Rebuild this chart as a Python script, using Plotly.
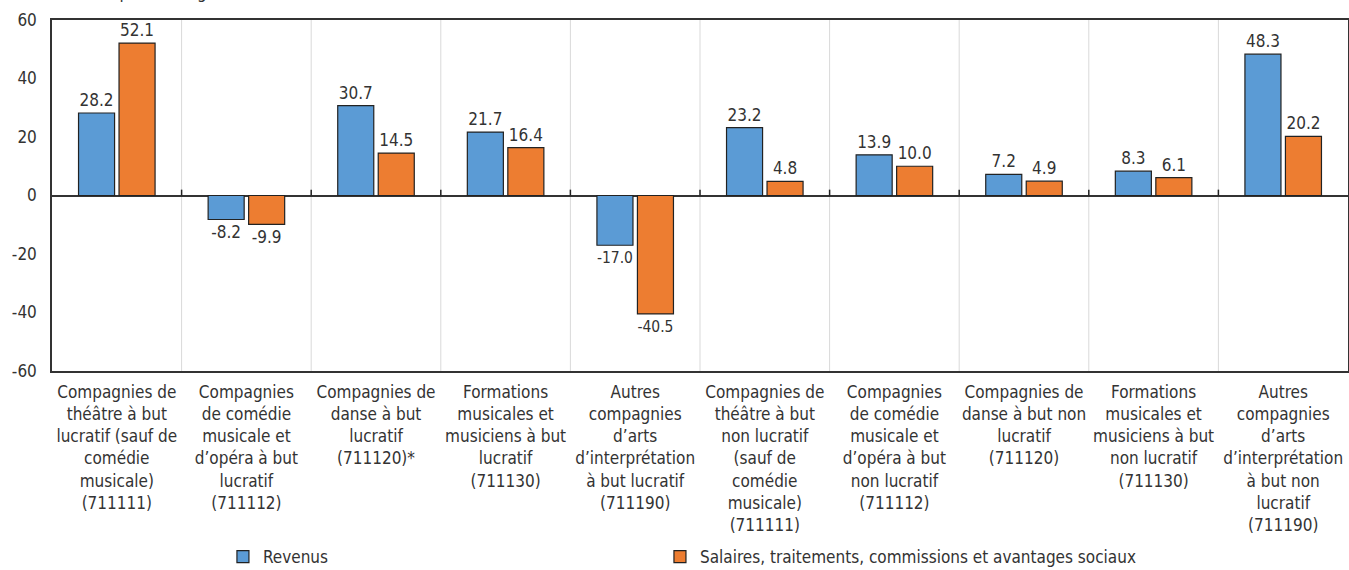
import plotly.graph_objects as go

categories = [
    "Compagnies de<br>théâtre à but<br>lucratif (sauf de<br>comédie<br>musicale)<br>(711111)",
    "Compagnies<br>de comédie<br>musicale et<br>d’opéra à but<br>lucratif<br>(711112)",
    "Compagnies de<br>danse à but<br>lucratif<br>(711120)*",
    "Formations<br>musicales et<br>musiciens à but<br>lucratif<br>(711130)",
    "Autres<br>compagnies<br>d’arts<br>d’interprétation<br>à but lucratif<br>(711190)",
    "Compagnies de<br>théâtre à but<br>non lucratif<br>(sauf de<br>comédie<br>musicale)<br>(711111)",
    "Compagnies<br>de comédie<br>musicale et<br>d’opéra à but<br>non lucratif<br>(711112)",
    "Compagnies de<br>danse à but non<br>lucratif<br>(711120)",
    "Formations<br>musicales et<br>musiciens à but<br>non lucratif<br>(711130)",
    "Autres<br>compagnies<br>d’arts<br>d’interprétation<br>à but non<br>lucratif<br>(711190)",
]
revenus = [28.2, -8.2, 30.7, 21.7, -17.0, 23.2, 13.9, 7.2, 8.3, 48.3]
salaires = [52.1, -9.9, 14.5, 16.4, -40.5, 4.8, 10.0, 4.9, 6.1, 20.2]
series_names = ["Revenus", "Salaires, traitements, commissions et avantages sociaux"]
y_ticks = [-60, -40, -20, 0, 20, 40, 60]
y_title = "Variation en pourcentage"

FONT = "DejaVu Sans Condensed, Liberation Sans Narrow, Arial Narrow, sans-serif"
TXT = "#333333"
BLUE = "#5B9BD5"
ORANGE = "#ED7D31"

xs = list(range(len(categories)))

fig = go.Figure()
for name, vals, col, lg in [(series_names[0], revenus, BLUE, "legend"),
                            (series_names[1], salaires, ORANGE, "legend2")]:
    fig.add_trace(go.Bar(
        x=xs, y=vals, name=name, legend=lg,
        marker=dict(color=col, line=dict(color="#222222", width=1.2)),
        texttemplate="%{y:.1f}", textposition="outside",
        textfont=dict(family=FONT, size=17, color=TXT),
        cliponaxis=False,
    ))

shapes = []
for i in range(len(categories) - 1):
    shapes.append(dict(type="line", xref="x", yref="y", x0=i + 0.5, x1=i + 0.5, y0=-60, y1=60,
                       line=dict(color="#D9D9D9", width=1), layer="below"))
    shapes.append(dict(type="line", xref="x", yref="y", x0=i + 0.5, x1=i + 0.5, y0=0, y1=2,
                       line=dict(color="#222222", width=1.5)))

legend_common = dict(orientation="h", xref="paper", yref="paper", y=-0.53,
                     xanchor="left", yanchor="middle", bgcolor="rgba(0,0,0,0)",
                     font=dict(family=FONT, size=17, color=TXT), itemclick=False)

fig.update_layout(
    width=1349, height=570,
    margin=dict(l=52, r=1, t=20, b=199, autoexpand=False),
    paper_bgcolor="white", plot_bgcolor="white",
    barmode="group", bargap=0.375, bargroupgap=0.11,
    font=dict(family=FONT, size=17, color=TXT),
    showlegend=True,
    legend=dict(x=0.1319, **legend_common),
    legend2=dict(x=0.4691, **legend_common),
    shapes=shapes,
    annotations=[dict(text=y_title, xref="paper", yref="paper", x=-0.0238, y=1.046,
                      xanchor="left", yanchor="bottom", showarrow=False,
                      font=dict(family=FONT, size=17, color=TXT))],
)
fig.update_xaxes(
    range=[-0.5, len(categories) - 0.5], automargin=False,
    tickmode="array", tickvals=xs, ticktext=categories,
    showgrid=False, showline=True, linecolor="#333333", linewidth=1.5, mirror=True,
    ticks="", tickangle=0, ticklabelstandoff=5, tickfont=dict(family=FONT, size=17, color=TXT),
    zeroline=False,
)
fig.update_yaxes(
    range=[-60, 60], tickvals=y_ticks, ticktext=[str(v) for v in y_ticks], automargin=False,
    showgrid=False, showline=True, linecolor="#333333", linewidth=1.5, mirror=True,
    zeroline=True, zerolinecolor="#333333", zerolinewidth=1.5,
    ticks="", ticklabelstandoff=10, tickfont=dict(family=FONT, size=17, color=TXT),
)

fig.write_html("out.html", config={"displayModeBar": False},
               post_script="document.body.style.margin='0';document.body.style.overflow='hidden';")
